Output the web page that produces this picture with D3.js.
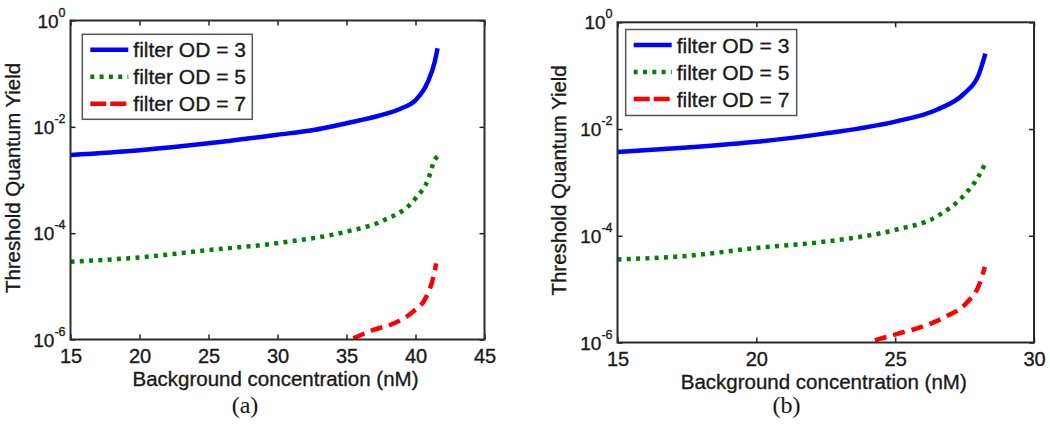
<!DOCTYPE html>
<html>
<head>
<meta charset="utf-8">
<script src="https://cdnjs.cloudflare.com/ajax/libs/d3/7.8.5/d3.min.js"></script>
<style>
body{margin:0;background:#fff;}
text{font-family:"Liberation Sans",Arial,sans-serif;fill:#1a1a1a;stroke:#1a1a1a;stroke-width:0.35px;}
</style>
</head>
<body>
<div id="svgcontainer"></div>
<script>
// testi e tick comuni ai due pannelli
var legendLabels = ["filter OD = 3", "filter OD = 5", "filter OD = 7"];
var yTicks = [1, 1e-2, 1e-4, 1e-6];
var xTicksA = [15, 20, 25, 30, 35, 40, 45];
var xTicksB = [15, 20, 25, 30];

// pannello (a): [concentrazione nM, quantum yield]
var od3A = [[15,2.95e-3],[20,3.63e-3],[25,4.9e-3],[30,7.1e-3],[32.6,8.7e-3],[35,1.17e-2],[37.5,1.66e-2],[39,2.24e-2],[40,3.16e-2],[40.9,7.1e-2],[41.4,0.17],[41.6,0.30]];
var od5A = [[15,2.9e-5],[20,3.5e-5],[25,4.8e-5],[30,6.5e-5],[35,1.07e-4],[37.5,1.66e-4],[40,4.5e-4],[40.9,1.0e-3],[41.4,2.4e-3],[41.6,2.8e-3]];
var od7A = [[35.5,1.05e-6],[36.9,1.5e-6],[38.4,2.0e-6],[39.8,3.3e-6],[40.8,6.5e-6],[41.3,1.5e-5],[41.5,2.7e-5]];

// pannello (b)
var od3B = [[15,3.7e-3],[17.5,4.5e-3],[20,5.75e-3],[22.5,8.3e-3],[25,1.38e-2],[26.5,2.3e-2],[27.5,4.7e-2],[28,0.102],[28.25,0.26]];
var od5B = [[15,3.6e-5],[17.5,4.2e-5],[20,5.9e-5],[22.5,7.8e-5],[25,1.29e-4],[26.5,2.3e-4],[27.5,5.9e-4],[28,1.29e-3],[28.25,2.3e-3]];
var od7B = [[24.27,1.1e-6],[25.17,1.5e-6],[26.0,2.0e-6],[26.85,3.1e-6],[27.57,5.5e-6],[28.05,1.3e-5],[28.23,2.6e-5]];

// stili delle tre curve
var styles = [
  {color: "#0000ff", dash: null, legendDash: null},
  {color: "#008000", dash: "4,5.3", legendDash: "4,5.3"},
  {color: "#ff0000", dash: "12,7", legendDash: "16,4"}
];

var svg = d3.select("#svgcontainer")
  .append("svg")
  .attr("width", 1050)
  .attr("height", 425);

function pannello(cfg, series){
  var x = d3.scaleLinear().domain(cfg.xDomain).range([cfg.left, cfg.right]);
  var y = d3.scaleLog().domain([1e-6, 1]).range([cfg.bottom, cfg.top]);
  var g = svg.append("g");

  // clip per le curve
  g.append("clipPath").attr("id", "clip" + cfg.id)
    .append("rect")
    .attr("x", cfg.left).attr("y", cfg.top)
    .attr("width", cfg.right - cfg.left).attr("height", cfg.bottom - cfg.top);

  var line = d3.line()
    .x(function(d){ return x(d[0]); })
    .y(function(d){ return y(d[1]); })
    .curve(d3.curveMonotoneX);

  series.forEach(function(s, i){
    g.append("path")
      .datum(s)
      .attr("clip-path", "url(#clip" + cfg.id + ")")
      .attr("d", line)
      .attr("fill", "none")
      .attr("stroke", styles[i].color)
      .attr("stroke-width", 4.5)
      .attr("stroke-dasharray", styles[i].dash);
  });

  // assi stile matlab: tick verso l'interno su tutti i lati
  var tl = 5;
  g.append("g").attr("transform", "translate(0," + cfg.bottom + ")")
    .call(d3.axisBottom(x).tickValues(cfg.xTicks).tickSize(-tl).tickPadding(5).tickFormat(d3.format("d")));
  g.append("g").attr("transform", "translate(0," + cfg.top + ")")
    .call(d3.axisTop(x).tickValues(cfg.xTicks).tickSize(-tl).tickFormat(""));
  g.append("g").attr("transform", "translate(" + cfg.left + ",0)")
    .call(d3.axisLeft(y).tickValues(yTicks).tickSize(-tl).tickFormat(""));
  g.append("g").attr("transform", "translate(" + cfg.right + ",0)")
    .call(d3.axisRight(y).tickValues(yTicks).tickSize(-tl).tickFormat(""));

  g.selectAll(".domain").remove();
  g.selectAll(".tick line").attr("stroke", "#222").attr("stroke-width", 1.5);
  g.selectAll(".tick text")
    .attr("font-size", "20px")
    .attr("fill", "#1a1a1a")
    .attr("font-family", "'Liberation Sans',Arial,sans-serif")
    .attr("dy", null)
    .attr("y", 23);

  // box
  g.append("rect")
    .attr("x", cfg.left).attr("y", cfg.top)
    .attr("width", cfg.right - cfg.left).attr("height", cfg.bottom - cfg.top)
    .attr("fill", "none").attr("stroke", "#2a2a2a").attr("stroke-width", 2);

  // etichette y come 10^n
  yTicks.forEach(function(v){
    var t = g.append("text")
      .attr("x", cfg.left - 5)
      .attr("y", y(v) + 7)
      .attr("text-anchor", "end")
      .attr("font-size", "19px");
    t.append("tspan").text("10");
    t.append("tspan").attr("dy", -11).attr("font-size", "12.5px").text(Math.round(Math.log10(v)));
  });

  // titoli assi
  g.append("text")
    .attr("transform", "translate(" + cfg.ylabelX + "," + ((cfg.top + cfg.bottom) / 2 - 2) + ") rotate(-90)")
    .attr("text-anchor", "middle")
    .attr("font-size", "20.4px")
    .text("Threshold Quantum Yield");
  g.append("text")
    .attr("x", (cfg.left + cfg.right) / 2 - 2)
    .attr("y", cfg.bottom + 46)
    .attr("text-anchor", "middle")
    .attr("font-size", "20.5px")
    .text("Background concentration (nM)");

  // didascalia (a)/(b)
  g.append("text")
    .attr("x", cfg.captionX)
    .attr("y", 413)
    .attr("text-anchor", "middle")
    .style("font-family", "'Liberation Serif','Times New Roman',serif")
    .style("stroke-width", "0.1px")
    .attr("font-size", "24px")
    .text(cfg.caption);

  // legenda
  var lg = g.append("g").attr("transform", "translate(" + cfg.legX + "," + cfg.legY + ")");
  lg.append("rect")
    .attr("width", cfg.legW).attr("height", cfg.legH)
    .attr("fill", "#fff").attr("stroke", "#555").attr("stroke-width", 1.5);
  legendLabels.forEach(function(lab, i){
    var ry = 15.5 + i * 27;
    lg.append("line")
      .attr("x1", 8).attr("x2", 46).attr("y1", ry).attr("y2", ry)
      .attr("stroke", styles[i].color)
      .attr("stroke-width", 4.5)
      .attr("stroke-dasharray", styles[i].legendDash);
    lg.append("text")
      .attr("x", 51).attr("y", ry + 7.5)
      .attr("font-size", "21px")
      .text(lab);
  });
}

pannello({id: "a", left: 70.5, right: 484.5, top: 20.5, bottom: 339.5, xDomain: [15, 45], xTicks: xTicksA,
  legX: 82.3, legY: 34.3, legW: 170, legH: 85, ylabelX: 20, captionX: 245, caption: "(a)"},
  [od3A, od5A, od7A]);
pannello({id: "b", left: 617.5, right: 1034, top: 22.3, bottom: 342.5, xDomain: [15, 30], xTicks: xTicksB,
  legX: 625.7, legY: 29.5, legW: 171, legH: 86, ylabelX: 566, captionX: 786.5, caption: "(b)"},
  [od3B, od5B, od7B]);
</script>
</body>
</html>
